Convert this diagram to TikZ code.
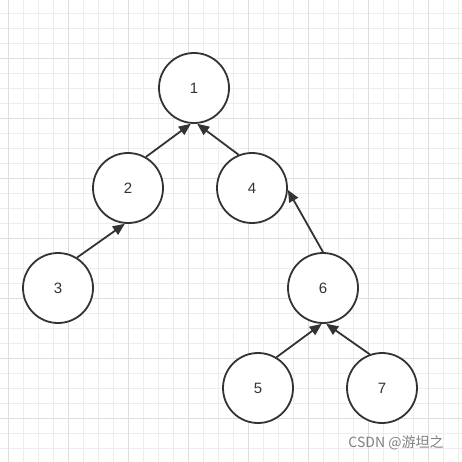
\documentclass[tikz,border=0pt]{standalone}
\usepackage{fontspec}
\setmainfont{Liberation Sans}
\newfontfamily\cjk{Noto Sans CJK SC}
\usetikzlibrary{arrows.meta}
\definecolor{ink}{HTML}{333333}
\definecolor{gridgray}{HTML}{EDEDED}
\definecolor{majorgray}{HTML}{DEDEDE}

\begin{document}
\begin{tikzpicture}[x=1pt, y=-1pt, inner sep=3pt]
		\tikzstyle{every node}=[align=center]
		\tikzstyle{treenode}=[circle, draw=ink, line width=1.8pt, fill=white, minimum size=70pt, inner sep=0pt, text=ink, font=\fontsize{15}{18}\selectfont]
		\tikzstyle{link}=[draw=ink, line width=1.8pt, -{Triangle[length=12pt, width=10pt]}]
		\tikzstyle{minorline}=[gridgray, line width=0.8pt]
		\tikzstyle{majorline}=[majorgray, line width=0.8pt]

			\useasboundingbox (0,0) rectangle (462,462);
			\fill[white] (0,0) rectangle (462,462);

			% background grid
			\foreach \gx in {8,23,...,458} \draw[minorline] (\gx,0) -- (\gx,462);
			\foreach \gy in {13,28,...,458} \draw[minorline] (0,\gy) -- (462,\gy);
			\foreach \gx in {8,68,...,428} \draw[majorline] (\gx,0) -- (\gx,462);
			\foreach \gy in {58,118,...,418} \draw[majorline] (0,\gy) -- (462,\gy);

			\node[treenode] (n1) at (194, 88) {1};
			\node[treenode] (n2) at (128, 188) {2};
			\node[treenode] (n4) at (252, 188) {4};
			\node[treenode] (n3) at (58, 288) {3};
			\node[treenode] (n6) at (323, 288) {6};
			\node[treenode] (n5) at (258, 388) {5};
			\node[treenode] (n7) at (382, 388) {7};

			\draw[link] (n2.60) -- (n1.265);
			\draw[link] (n4.112) -- (n1.275);
			\draw[link] (n3.58) -- (n2.265);
			\draw[link] (n6.90) -- (n4.-3);
			\draw[link] (n5.59) -- (n6.268);
			\draw[link] (n7.110) -- (n6.275);

			\node[text=gray, font=\cjk\fontsize{14}{16}\selectfont] (mark) at (396, 443) {CSDN @游坦之};
		\end{tikzpicture}
\end{document}
